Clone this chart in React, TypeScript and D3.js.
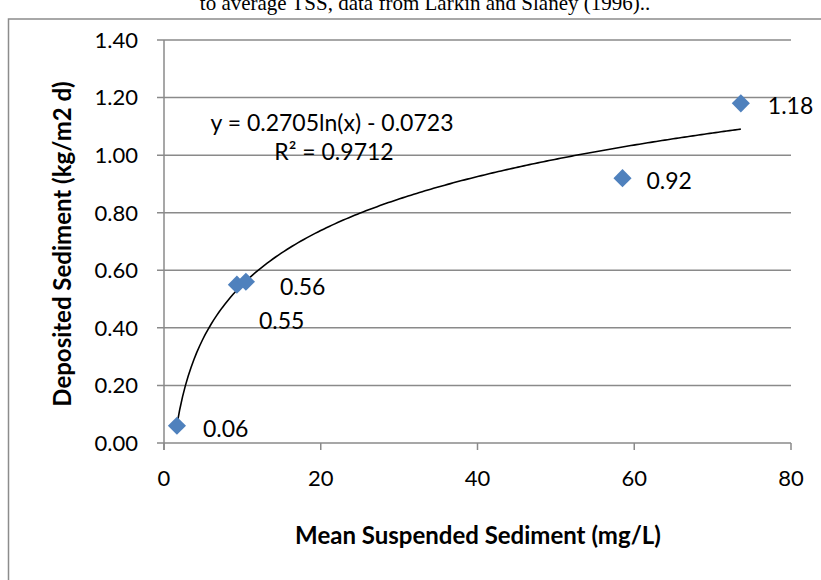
import React from "react";
import * as d3 from "d3";

const xValues = [1.65, 9.3, 10.45, 58.5, 73.6];
const yValues = [0.06, 0.55, 0.56, 0.92, 1.18];
const pointLabels = ["0.06", "0.55", "0.56", "0.92", "1.18"];
const xTicks = [0, 20, 40, 60, 80];
const yTicks = [0, 0.2, 0.4, 0.6, 0.8, 1.0, 1.2, 1.4];
const trendA = 0.2705;
const trendB = -0.0723;
const equationText = "y = 0.2705ln(x) - 0.0723";
const r2Text = "R² = 0.9712";
const xTitle = "Mean Suspended Sediment (mg/L)";
const yTitle = "Deposited Sediment (kg/m2 d)";
const captionText = "to average TSS, data from Larkin and Slaney (1996)..";

// label placement offsets (layout, not data)
const labelOffsets: [number, number][] = [
  [26, 3],
  [22, 36],
  [34, 5],
  [24, 3],
  [27, 2],
];

export default function App() {
  const W = 821;
  const H = 580;
  const left = 164;
  const right = 791;
  const top = 40;
  const bottom = 443;
  const x = d3.scaleLinear().domain([0, 80]).range([left, right]);
  const y = d3.scaleLinear().domain([0, 1.4]).range([bottom, top]);
  const font = "Lato, 'Noto Sans', sans-serif";
  const grid = "#8a8a8a";

  const xmin = d3.min(xValues) as number;
  const xmax = d3.max(xValues) as number;
  const trendPts = d3.range(0, 201).map((i) => {
    const xv = xmin + ((xmax - xmin) * i) / 200;
    return [xv, trendA * Math.log(xv) + trendB] as [number, number];
  });
  const line = d3
    .line<[number, number]>()
    .x((d) => x(d[0]))
    .y((d) => y(d[1]))
    .curve(d3.curveLinear);

  const diamond = d3.symbol().type(d3.symbolDiamond2).size(210)() as string;

  return (
    <svg
      width={W}
      height={H}
      style={{ position: "absolute", left: 0, top: 0, background: "#fff" }}
    >
      <rect x={0} y={0} width={W} height={H} fill="#fff" />
      <text
        x={425}
        y={10}
        textAnchor="middle"
        fontFamily="'Liberation Serif', 'Times New Roman', serif"
        fontSize={21}
        fill="#000"
      >
        {captionText}
      </text>
      <rect
        x={8.5}
        y={19}
        width={W + 20}
        height={H + 20}
        fill="none"
        stroke="#8c8c8c"
        strokeWidth={1.5}
      />
      {yTicks.map((t) => (
        <g key={"y" + t}>
          <line
            x1={left - 7}
            x2={right}
            y1={y(t)}
            y2={y(t)}
            stroke={grid}
            strokeWidth={1.5}
          />
          <text
            x={138}
            y={y(t)}
            dy="0.36em"
            textAnchor="end"
            fontFamily={font}
            fontSize={22}
            fill="#000"
          >
            {d3.format(".2f")(t)}
          </text>
        </g>
      ))}
      <line x1={left} x2={left} y1={top} y2={bottom + 7} stroke={grid} strokeWidth={1.5} />
      {xTicks.map((t) => (
        <g key={"x" + t}>
          <line x1={x(t)} x2={x(t)} y1={bottom} y2={bottom + 7} stroke={grid} strokeWidth={1.5} />
          <text
            x={x(t)}
            y={478}
            dy="0.36em"
            textAnchor="middle"
            fontFamily={font}
            fontSize={22}
            fill="#000"
          >
            {t}
          </text>
        </g>
      ))}
      <path d={line(trendPts) as string} fill="none" stroke="#000" strokeWidth={1.6} />
      {xValues.map((xv, i) => (
        <path
          key={"p" + i}
          d={diamond}
          transform={`translate(${x(xv)},${y(yValues[i])})`}
          fill="#4F81BD"
        />
      ))}
      {xValues.map((xv, i) => (
        <text
          key={"l" + i}
          x={x(xv) + labelOffsets[i][0]}
          y={y(yValues[i]) + labelOffsets[i][1]}
          dy="0.36em"
          fontFamily={font}
          fontSize={23}
          fill="#000"
        >
          {pointLabels[i]}
        </text>
      ))}
      <text x={332} y={123} dy="0.36em" textAnchor="middle" fontFamily={font} fontSize={23} fill="#000">
        {equationText}
      </text>
      <text x={334} y={152} dy="0.36em" textAnchor="middle" fontFamily={font} fontSize={23} fill="#000">
        {r2Text}
      </text>
      <text
        x={478}
        y={535}
        dy="0.36em"
        textAnchor="middle"
        fontFamily={font}
        fontWeight="bold"
        fontSize={24}
        fill="#000"
      >
        {xTitle}
      </text>
      <text
        transform={`translate(62,244) rotate(-90)`}
        dy="0.36em"
        textAnchor="middle"
        fontFamily={font}
        fontWeight="bold"
        fontSize={24}
        fill="#000"
      >
        {yTitle}
      </text>
    </svg>
  );
}
